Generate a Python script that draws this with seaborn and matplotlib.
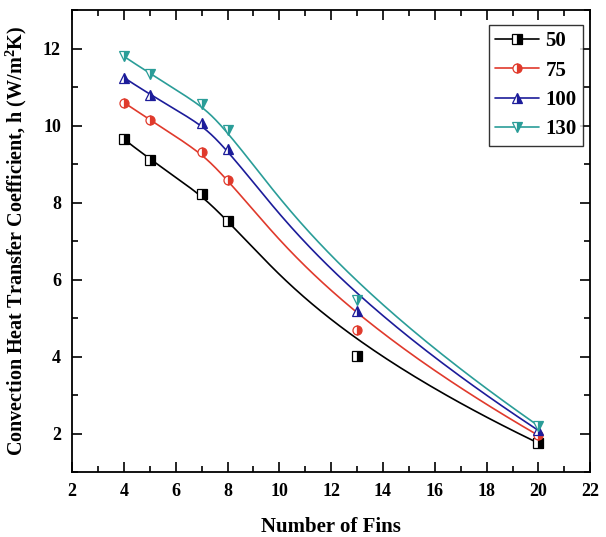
import numpy as np
import pandas as pd
import matplotlib
matplotlib.use("Agg")
import matplotlib.pyplot as plt
from matplotlib.lines import Line2D
from matplotlib.ticker import MultipleLocator
import seaborn as sns

fins = [4, 5, 7, 8, 13, 20]
h_50 = [9.65, 9.12, 8.22, 7.52, 4.02, 1.75]
h_75 = [10.6, 10.15, 9.32, 8.6, 4.68, 1.95]
h_100 = [11.25, 10.8, 10.06, 9.4, 5.18, 2.08]
h_130 = [11.8, 11.35, 10.55, 9.9, 5.48, 2.2]
labels = ["50", "75", "100", "130"]
colors = ["#000000", "#e03a2c", "#1c1c9a", "#2a9d98"]
markers = ["s", "o", "^", "v"]
series = [h_50, h_75, h_100, h_130]


def bspline(px, py, n=300, k=3):
    # clamped cubic B-spline with the data points as control points (Origin style)
    P = np.column_stack([px, py]).astype(float)
    m = len(P)
    knots = np.concatenate([np.zeros(k), np.linspace(0, 1, m - k + 1), np.ones(k)])
    ts = np.linspace(0, 1, n)
    out = []
    for t in ts:
        if t >= 1:
            out.append(P[-1]); continue
        j = np.searchsorted(knots, t, side="right") - 1
        d = [P[j - k + i].copy() for i in range(k + 1)]
        for r in range(1, k + 1):
            for i in range(k, r - 1, -1):
                a = (t - knots[j - k + i]) / (knots[i + 1 + j - r] - knots[j - k + i])
                d[i] = (1 - a) * d[i - 1] + a * d[i]
        out.append(d[k])
    out = np.array(out)
    return out[:, 0], out[:, 1]


sns.set_theme(style="ticks")
plt.rcParams["font.family"] = ["Liberation Serif", "DejaVu Serif"]
plt.rcParams["font.weight"] = "bold"
plt.rcParams["text.color"] = "black"
plt.rcParams["axes.labelcolor"] = "black"
plt.rcParams["mathtext.fontset"] = "custom"
plt.rcParams["mathtext.rm"] = "Liberation Serif:bold"
plt.rcParams["mathtext.bf"] = "Liberation Serif:bold"

fig = plt.figure(figsize=(6.06, 5.37), dpi=100)
ax = fig.add_axes([0.119, 0.121, 0.855, 0.860])

frames = []
for lab, ys in zip(labels, series):
    sx, sy = bspline(fins, ys)
    frames.append(pd.DataFrame({"x": sx, "y": sy, "T": lab}))
curves = pd.concat(frames, ignore_index=True)
sns.lineplot(data=curves, x="x", y="y", hue="T", palette=dict(zip(labels, colors)),
             sort=False, estimator=None, lw=1.2, ax=ax, legend=False)

handles = []
for lab, ys, c, mk in zip(labels, series, colors, markers):
    ax.plot(fins, ys, ls="none", marker=mk, ms=6.5, mec=c, mfc=c, mfcalt="white",
            fillstyle="right", mew=0.9, zorder=5)
    handles.append(Line2D([], [], color=c, lw=1.2, marker=mk, ms=6.5, mec=c, mfc=c,
                          mfcalt="white", fillstyle="right", mew=0.9))

ax.set_xlim(2, 22)
ax.set_ylim(1, 13)
ax.xaxis.set_major_locator(MultipleLocator(2))
ax.xaxis.set_minor_locator(MultipleLocator(1))
ax.yaxis.set_major_locator(MultipleLocator(2))
ax.yaxis.set_minor_locator(MultipleLocator(1))
ax.tick_params(which="both", direction="in", top=True, right=True, width=1.2,
               labelsize=13, colors="black", pad=8)
ax.tick_params(which="major", length=7)
ax.tick_params(which="minor", length=4)
for s in ax.spines.values():
    s.set_visible(True)
    s.set_linewidth(1.3)
    s.set_color("black")
for t in ax.get_xticklabels() + ax.get_yticklabels():
    t.set_fontweight("bold")

ax.set_xlabel("Number of Fins", fontsize=15, fontweight="bold", labelpad=12)
ax.set_ylabel(r"Convection Heat Transfer Coefficient, h (W/m$^2$K)", fontsize=14.5,
              fontweight="bold", labelpad=10)

leg = ax.legend(handles, labels, loc="upper right", bbox_to_anchor=(0.986, 0.968),
                frameon=True, fancybox=False, edgecolor="black", fontsize=15,
                handlelength=2.1, borderpad=0.3, labelspacing=0.45, handletextpad=0.3,
                borderaxespad=0)
leg.get_frame().set_linewidth(1.0)
for t in leg.get_texts():
    t.set_fontweight("bold")
    t.set_color("black")

fig.savefig("out.png", dpi=100)
